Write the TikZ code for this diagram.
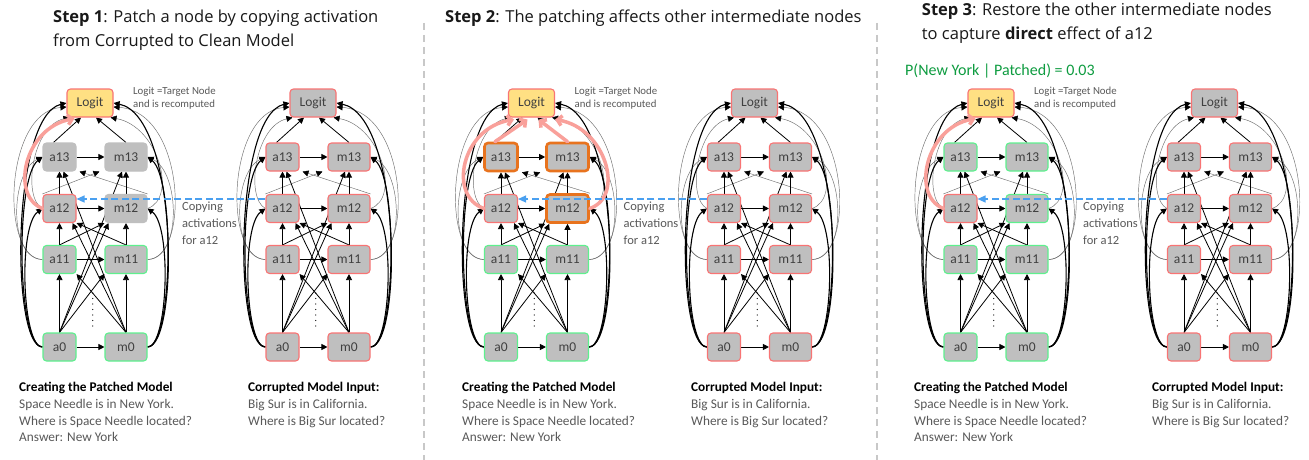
\documentclass[tikz,border=0pt]{standalone}
\usepackage{fontspec}
\setmainfont{Carlito}
\newfontfamily\titlefont{Open Sans}
\usetikzlibrary{arrows.meta}
\pgfdeclarelayer{bglayer}
\pgfdeclarelayer{edgelayer}
\pgfsetlayers{bglayer,edgelayer,main}
\definecolor{nodegray}{HTML}{BFBFBF}
\definecolor{redb}{HTML}{F87474}
\definecolor{greenb}{HTML}{5EF08E}
\definecolor{logity}{HTML}{FFE083}
\definecolor{orangeb}{HTML}{E8731E}
\definecolor{pinkarr}{HTML}{F9A09A}
\definecolor{bluearr}{HTML}{4AA0F0}
\definecolor{txtgray}{HTML}{595959}
\definecolor{nodetxt}{HTML}{404040}
\definecolor{greentxt}{HTML}{0E9C40}
\definecolor{sepgray}{HTML}{C8C8C8}
\definecolor{thingray}{HTML}{6E6E6E}
\tikzset{
  nd/.style={rectangle, rounded corners=3.5pt, fill=nodegray, minimum height=28pt, inner sep=0pt,
    font=\fontsize{13.5}{15}\selectfont, text=nodetxt, line width=1.1pt},
  anode/.style={nd, minimum width=33pt},
  mnode/.style={nd, minimum width=42pt},
  lnode/.style={nd, minimum width=46pt},
  plain/.style={draw=nodegray},
  redn/.style={draw=redb},
  greenn/.style={draw=greenb},
  orangen/.style={draw=orangeb, line width=2.6pt},
  logitn/.style={draw=redb, fill=logity},
  edge/.style={line width=0.8pt, -{Triangle[length=6pt,width=6pt]}},
  thickedge/.style={line width=1.1pt, -{Triangle[length=6pt,width=6pt]}},
  thinedge/.style={line width=0.45pt, draw=thingray, -{Triangle[length=6pt,width=6pt,color=black]}},
  pinkar/.style={line width=3.5pt, draw=pinkarr, line cap=round, -{Straight Barb[length=4.5pt,width=10pt]}},
  bluedash/.style={line width=1.3pt, draw=bluearr, dash pattern=on 7pt off 3.5pt, -{Triangle[length=8pt,width=7pt,color=bluearr]}},
  dotline/.style={line width=1.2pt, line cap=round, dash pattern=on 0pt off 5.5pt},
  sepline/.style={line width=1.6pt, draw=sepgray, dash pattern=on 7pt off 5pt},
  ttl/.style={anchor=base west, inner sep=0pt, font=\titlefont\fontsize{16.5}{20}\selectfont, text=black!90},
  hdr/.style={anchor=base west, inner sep=0pt, font=\fontsize{13.3}{15}\selectfont\bfseries, text=black},
  body/.style={anchor=base west, inner sep=0pt, font=\fontsize{13.3}{15}\selectfont, text=txtgray},
  note/.style={anchor=base west, inner sep=0pt, font=\fontsize{10.8}{12}\selectfont, text=txtgray},
  cpy/.style={anchor=base west, inner sep=0pt, font=\fontsize{12.5}{14}\selectfont, text=txtgray},
}

\newcommand{\drawmodel}[8]{%
\begin{scope}[xshift=#1pt]
 \node[lnode,#3] (#2L) at (90,103) {Logit};
 \node[anode,#4] (#2a13) at (59.5,157) {a13};
 \node[mnode,#5] (#2m13) at (126,157) {m13};
 \node[anode,#6] (#2a12) at (59.5,208.5) {a12};
 \node[mnode,#7] (#2m12) at (126,208.5) {m12};
 \node[anode,#8] (#2a11) at (59.5,259.5) {a11};
 \node[mnode,#8] (#2m11) at (126,259.5) {m11};
 \node[anode,#8] (#2a0) at (59.5,347) {a0};
 \node[mnode,#8] (#2m0) at (126,347) {m0};
 \begin{pgfonlayer}{edgelayer}
  % thin skip curves, left
  \draw[thinedge] (#2a11.west) .. controls (8,259) and (10,172) .. (#2a13.west);
  \draw[thinedge] (#2a11.west) .. controls (0,259) and (4,112) .. ([yshift=-4pt]#2L.west);
  \draw[thinedge] (#2a12.west) .. controls (22,198) and (32,126) .. ([xshift=3pt]#2L.south west);
  % thin skip curves, right
  \draw[thinedge] (#2m11.east) .. controls (182,259) and (180,172) .. (#2m13.east);
  \draw[thinedge] (#2m11.east) .. controls (190,259) and (186,112) .. ([yshift=-4pt]#2L.east);
  \draw[thinedge] (#2m12.east) .. controls (178,198) and (158,126) .. ([xshift=-3pt]#2L.south east);
  % thin diagonals
  \draw[thinedge] (#2a12.north west) -- ([xshift=-5pt]#2m13.south west);
  \draw[thinedge] (#2m12.north east) -- ([xshift=3pt]#2a13.south east);
  % thick skip curves
  \draw[thickedge] (#2a0.west) .. controls (22,347) and (18,226) .. (#2a12.west);
  \draw[thickedge] (#2a0.west) .. controls (17,347) and (15,178) .. (#2a13.west);
  \draw[thickedge] (#2a0.west) .. controls (11,347) and (11,116) .. (#2L.west);
  \draw[thickedge] (#2m0.east) .. controls (168,347) and (172,226) .. (#2m12.east);
  \draw[thickedge] (#2m0.east) .. controls (173,347) and (175,178) .. (#2m13.east);
  \draw[thickedge] (#2m0.east) .. controls (179,347) and (179,116) .. (#2L.east);
  % horizontal
  \draw[edge] (#2a0) -- (#2m0);
  \draw[edge] (#2a11) -- (#2m11);
  \draw[edge] (#2a12) -- (#2m12);
  \draw[edge] (#2a13) -- (#2m13);
  % vertical
  \draw[edge] (#2a0) -- (#2a11);
  \draw[edge] (#2a11) -- (#2a12);
  \draw[edge] (#2a12) -- (#2a13);
  \draw[edge] (#2m0) -- (#2m11);
  \draw[edge] (#2m11) -- (#2m12);
  \draw[edge] (#2m12) -- (#2m13);
  % to logit
  \draw[edge] ([xshift=-6pt]#2a13.north) -- ([xshift=-9pt]#2L.south);
  \draw[edge] (#2m13.north) -- ([xshift=6pt]#2L.south);
  % diagonals
  \draw[edge] (#2a11.north) -- (#2m12.south west);
  \draw[edge] (#2m11.north) -- (#2a12.south east);
  \draw[edge] (#2a0.north) -- (#2m11.south west);
  \draw[edge] (#2m0.north) -- (#2a11.south east);
  \draw[edge] (#2a0.north) -- ([xshift=4pt]#2m12.south west);
  \draw[edge] (#2m0.north) -- ([xshift=-4pt]#2a12.south east);
  \draw[edge] (#2a0.north) -- ([xshift=-4pt]#2m13.south);
  \draw[edge] (#2m0.north) -- ([xshift=4pt]#2a13.south);
  \draw[dotline] (92.7,293) -- (92.7,326);
 \end{pgfonlayer}
\end{scope}}

\begin{document}
\begin{tikzpicture}[x=1pt,y=-1pt]
\begin{pgfonlayer}{bglayer}
\fill[white] (0,0) rectangle (1309,460);
\end{pgfonlayer}
\useasboundingbox (0,0) rectangle (1309,460);

% separators
\draw[sepline] (424,23) -- (424,460);
\draw[sepline] (877,23) -- (877,460);

% models
\drawmodel{0}{Pa}{logitn}{plain}{plain}{redn}{plain}{greenn}
\drawmodel{223}{Pb}{redn}{redn}{redn}{redn}{redn}{redn}
\drawmodel{441.5}{Qa}{logitn}{orangen}{orangen}{redn}{orangen}{greenn}
\drawmodel{664.5}{Qb}{redn}{redn}{redn}{redn}{redn}{redn}
\drawmodel{901}{Ra}{logitn}{greenn}{greenn}{redn}{greenn}{greenn}
\drawmodel{1124.5}{Rb}{redn}{redn}{redn}{redn}{redn}{redn}

% pink highlight arrows
\draw[pinkar] (Paa12.west) .. controls (10,196) and (24,128) .. ([xshift=8pt,yshift=-1pt]PaL.south west);
\begin{scope}[xshift=441.5pt]
\draw[pinkar] (Qaa12.west) .. controls (6,196) and (20,128) .. ([xshift=6pt,yshift=-2pt]QaL.south west);
\draw[pinkar] ([xshift=-6pt]Qaa13.north) -- ([xshift=-4pt,yshift=-2pt]QaL.south);
\draw[pinkar] (Qam13.north) -- ([xshift=7pt,yshift=-2pt]QaL.south);
\draw[pinkar] (Qam12.east) .. controls (184,196) and (164,128) .. ([xshift=0pt,yshift=-2pt]QaL.south east);
\end{scope}
\draw[pinkar] (Raa12.west) .. controls (911,196) and (925,128) .. ([xshift=8pt,yshift=-1pt]RaL.south west);

% blue copy arrows
\draw[bluedash] ([yshift=9.5pt]Pba12.west) -- ([yshift=9.5pt]Paa12.east);
\draw[bluedash] ([yshift=9.5pt]Qba12.west) -- ([yshift=9.5pt]Qaa12.east);
\draw[bluedash] ([yshift=9.5pt]Rba12.west) -- ([yshift=9.5pt]Raa12.east);

% titles
\node[ttl] (t1a) at (53,22.7) {\textbf{Step 1}: Patch a node by copying activation};
\node[ttl] (t1b) at (53,46.7) {from Corrupted to Clean Model};
\node[ttl] (t2a) at (445,22.7) {\textbf{Step 2}: The patching affects other intermediate nodes};
\node[ttl] (t3a) at (921.7,16) {\textbf{Step 3}: Restore the other intermediate nodes};
\node[ttl] (t3b) at (921.7,39.5) {to capture \textbf{direct} effect of a12};
\node[anchor=base west, inner sep=0pt, font=\fontsize{16}{18}\selectfont, text=greentxt] (pny) at (905,76) {P(New York | Patched) = 0.03};

% logit notes
\node[note] (n1a) at (133,94.5) {Logit =Target Node};
\node[note] (n1b) at (133,107.5) {and is recomputed};
\node[note] (n2a) at (574.5,94.5) {Logit =Target Node};
\node[note] (n2b) at (574.5,107.5) {and is recomputed};
\node[note] (n3a) at (1034,94.5) {Logit =Target Node};
\node[note] (n3b) at (1034,107.5) {and is recomputed};

% copying notes
\node[cpy] (c1a) at (182,210.5) {Copying};
\node[cpy] (c1b) at (182,227.5) {activations};
\node[cpy] (c1c) at (182,244.5) {for a12};
\node[cpy] (c2a) at (623.5,210.5) {Copying};
\node[cpy] (c2b) at (623.5,227.5) {activations};
\node[cpy] (c2c) at (623.5,244.5) {for a12};
\node[cpy] (c3a) at (1083,210.5) {Copying};
\node[cpy] (c3b) at (1083,227.5) {activations};
\node[cpy] (c3c) at (1083,244.5) {for a12};

% bottom texts
\foreach \bx/\nm in {19/p, 462/q, 914/r}{
  \node[hdr] (h\nm) at (\bx,391) {Creating the Patched Model};
  \node[body] (b\nm1) at (\bx,408) {Space Needle is in New York.};
  \node[body] (b\nm2) at (\bx,425) {Where is Space Needle located?};
  \node[body] (b\nm3) at (\bx,441.5) {Answer: New York};
}
\foreach \bx/\nm in {248/p, 691/q, 1152/r}{
  \node[hdr] (k\nm) at (\bx,391) {Corrupted Model Input:};
  \node[body] (d\nm1) at (\bx,408) {Big Sur is in California.};
  \node[body] (d\nm2) at (\bx,425) {Where is Big Sur located?};
}
\end{tikzpicture}
\end{document}
